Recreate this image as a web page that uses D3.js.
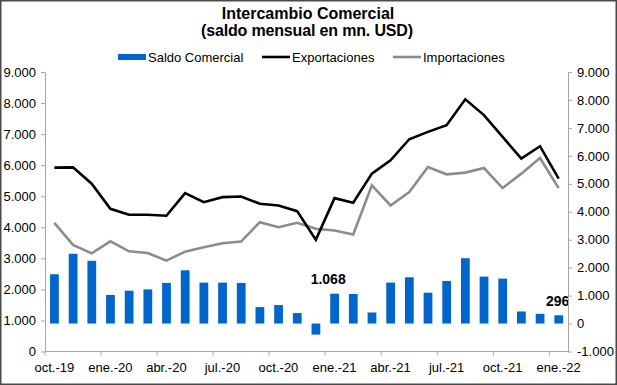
<!DOCTYPE html>
<html>
<head>
<meta charset="utf-8">
<script src="https://cdnjs.cloudflare.com/ajax/libs/d3/7.8.5/d3.min.js"></script>
<style>
    body { margin: 0; background: #fff; }
    svg { display: block; font-family: Arial, "Liberation Sans", sans-serif; }
</style>
</head>
<body>
<svg id="chart" width="617" height="385"></svg>
<script>
const months = ['oct.-19', 'nov.-19', 'dic.-19', 'ene.-20', 'feb.-20', 'mar.-20', 'abr.-20', 'may.-20',
    'jun.-20', 'jul.-20', 'ago.-20', 'sep.-20', 'oct.-20', 'nov.-20', 'dic.-20', 'ene.-21', 'feb.-21',
    'mar.-21', 'abr.-21', 'may.-21', 'jun.-21', 'jul.-21', 'ago.-21', 'sep.-21', 'oct.-21', 'nov.-21',
    'dic.-21', 'ene.-22'];

const saldo = [1763, 2496, 2245, 1022, 1176, 1223, 1453, 1906, 1464, 1464, 1453, 590, 662, 374,
    -396, 1068, 1060, 396, 1464, 1655, 1104, 1525, 2338, 1680, 1608, 432, 349, 296];

const exportaciones = [5920, 5930, 5404, 4596, 4402, 4402, 4370, 5100, 4809, 4971, 4993, 4757, 4703,
    4519, 3594, 4939, 4790, 5727, 6157, 6835, 7072, 7288, 8119, 7612, 6910, 6212, 6610, 5566];

const importaciones = [4143, 3432, 3161, 3549, 3226, 3174, 2925, 3216, 3355, 3484, 3539, 4163, 4001,
    4143, 3950, 3895, 3765, 5349, 4703, 5133, 5941, 5705, 5760, 5908, 5262, 5727, 6231, 5262];

const leftTicks = [0, 1000, 2000, 3000, 4000, 5000, 6000, 7000, 8000, 9000];
const rightTicks = [-1000, 0, 1000, 2000, 3000, 4000, 5000, 6000, 7000, 8000, 9000];
const labelMonths = ['oct.-19', 'ene.-20', 'abr.-20', 'jul.-20', 'oct.-20', 'ene.-21', 'abr.-21',
    'jul.-21', 'oct.-21', 'ene.-22'];
const dataLabels = { 'ene.-21': '1.068', 'ene.-22': '296' };

const margin = { left: 45, right: 49, top: 72, bottom: 34 };
const width = 617, height = 385;
const svg = d3.select('#chart');

// thousands with a dot, as in the original
const fmt = d3.formatLocale({ decimal: ',', thousands: '.', grouping: [3], currency: ['', ''], minus: '-' }).format(',.0f');

const x = d3.scaleBand()
    .domain(months)
    .range([margin.left, width - margin.right]);

const yLeft = d3.scaleLinear()
    .domain([0, 9000])
    .range([height - margin.bottom + 0.5, margin.top]);

const yRight = d3.scaleLinear()
    .domain([-1000, 9000])
    .range([height - margin.bottom + 0.5, margin.top]);

const axisColor = '#a6a6a6';

// frame
svg.append('rect')
    .attr('x', 0.75).attr('y', 0.75)
    .attr('width', width - 1.5).attr('height', height - 1.5)
    .attr('fill', 'none')
    .attr('stroke', '#4a4a4a')
    .attr('stroke-width', 1.5);

// title
svg.append('text')
    .attr('x', 308).attr('y', 19)
    .attr('text-anchor', 'middle')
    .attr('font-size', 16).attr('font-weight', 'bold')
    .text('Intercambio Comercial');
svg.append('text')
    .attr('x', 307).attr('y', 36)
    .attr('text-anchor', 'middle')
    .attr('font-size', 16).attr('font-weight', 'bold')
    .attr('textLength', 212).attr('lengthAdjust', 'spacing')
    .text('(saldo mensual en mn. USD)');

// bars
svg.append('g')
    .selectAll('rect')
    .data(saldo)
    .join('rect')
    .attr('x', (d, i) => x(months[i]) + x.bandwidth() * 0.27)
    .attr('width', x.bandwidth() * 0.47)
    .attr('y', d => yRight(Math.max(d, 0)))
    .attr('height', d => Math.abs(yRight(d) - yRight(0)))
    .attr('fill', '#0066cc');

// lines
const line = (data) => d3.line()
    .x((d, i) => x(months[i]) + x.bandwidth() / 2)
    .y(d => yLeft(d))(data);

svg.append('path')
    .attr('d', line(importaciones))
    .attr('fill', 'none')
    .attr('stroke', '#8c8c8c')
    .attr('stroke-width', 2.6)
    .attr('stroke-linejoin', 'miter');

svg.append('path')
    .attr('d', line(exportaciones))
    .attr('fill', 'none')
    .attr('stroke', '#000')
    .attr('stroke-width', 2.6)
    .attr('stroke-linejoin', 'miter');

// data labels
svg.append('g')
    .selectAll('text')
    .data(months.filter(m => dataLabels[m]))
    .join('text')
    .attr('x', m => m === 'ene.-21' ? x(m) + 3 : x(m) + x.bandwidth() / 2 - 1)
    .attr('y', m => {
        const v = saldo[months.indexOf(m)];
        return yRight(v) - (m === 'ene.-21' ? 10 : 9);
    })
    .attr('text-anchor', 'middle')
    .attr('font-size', 14).attr('font-weight', 'bold')
    .text(m => dataLabels[m]);

// axes
const leftAxis = svg.append('g')
    .attr('transform', `translate(${margin.left},0)`)
    .call(d3.axisLeft(yLeft).tickValues(leftTicks).tickFormat(fmt).tickSizeInner(4).tickSizeOuter(0).tickPadding(5));

const rightAxis = svg.append('g')
    .attr('transform', `translate(${width - margin.right},0)`)
    .call(d3.axisRight(yRight).tickValues(rightTicks).tickFormat(fmt).tickSizeInner(4).tickSizeOuter(0).tickPadding(5));

const bottomY = yLeft(0);
const bottomAxis = svg.append('g').attr('transform', `translate(0,${bottomY})`);
bottomAxis.append('line')
    .attr('x1', margin.left).attr('x2', width - margin.right)
    .attr('stroke', axisColor);
bottomAxis.selectAll('line.tick')
    .data(labelMonths)
    .join('line')
    .attr('class', 'tick')
    .attr('x1', m => x(m)).attr('x2', m => x(m))
    .attr('y1', 0).attr('y2', 4)
    .attr('stroke', axisColor);
bottomAxis.selectAll('text')
    .data(labelMonths)
    .join('text')
    .attr('x', m => x(m) + x.bandwidth() / 2)
    .attr('y', 20)
    .attr('text-anchor', 'middle')
    .attr('font-size', 13)
    .attr('fill', '#000')
    .text(m => m);

[leftAxis, rightAxis].forEach(a => {
    a.select('.domain').attr('stroke', axisColor);
    a.selectAll('.tick line').attr('stroke', axisColor);
    a.selectAll('.tick text').attr('font-size', 13).attr('fill', '#000')
        .attr('font-family', 'Arial, "Liberation Sans", sans-serif');
});

// legend
const legend = svg.append('g').attr('transform', 'translate(0,57)');
const items = [
    { label: 'Saldo Comercial', x: 118, type: 'bar', color: '#0066cc' },
    { label: 'Exportaciones', x: 262, type: 'line', color: '#000' },
    { label: 'Importaciones', x: 393, type: 'line', color: '#8c8c8c' },
];
items.forEach(it => {
    if (it.type === 'bar') {
        legend.append('rect')
            .attr('x', it.x).attr('y', -3).attr('width', 28).attr('height', 6)
            .attr('fill', it.color);
    } else {
        legend.append('line')
            .attr('x1', it.x).attr('x2', it.x + 28)
            .attr('stroke', it.color).attr('stroke-width', 2.6);
    }
    legend.append('text')
        .attr('x', it.x + 30).attr('y', 4.5)
        .attr('font-size', 13)
        .text(it.label);
});
</script>
</body>
</html>
